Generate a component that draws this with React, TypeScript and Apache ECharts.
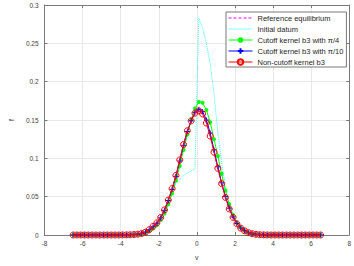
import React, { useEffect, useRef } from "react";
import * as echarts from "echarts";

const vGrid = [
  -6.5, -6.3, -6.1, -5.9, -5.7, -5.5, -5.3, -5.1, -4.9, -4.7, -4.5, -4.3, -4.1, -3.9, -3.7, -3.5,
  -3.3, -3.1, -2.9, -2.7, -2.5, -2.3, -2.1, -1.9, -1.7, -1.5, -1.3, -1.1, -0.9, -0.7, -0.5, -0.3, -0.1,
  0.1, 0.3, 0.5, 0.7, 0.9, 1.1, 1.3, 1.5, 1.7, 1.9, 2.1, 2.3, 2.5, 2.7, 2.9, 3.1, 3.3, 3.5, 3.7,
  3.9, 4.1, 4.3, 4.5, 4.7, 4.9, 5.1, 5.3, 5.5, 5.7, 5.9, 6.1, 6.3, 6.5,
];

const refEquilibrium = [
  0, 0, 0, 0, 0, 0, 0, 0, 0, 0, 0, 0, 0, 0.0001, 0.0002, 0.0003,
  0.0006, 0.0011, 0.002, 0.0037, 0.0069, 0.011, 0.0157, 0.0226, 0.0325, 0.0455, 0.0603, 0.0776, 0.0978, 0.1178, 0.1355, 0.1485, 0.158,
  0.161, 0.1575, 0.1465, 0.1295, 0.1085, 0.0875, 0.0672, 0.0492, 0.0342, 0.0232, 0.0149, 0.0091, 0.0056, 0.0031, 0.0017, 0.0009, 0.0004, 0.0002, 0.0001,
  0, 0, 0, 0, 0, 0, 0, 0, 0, 0, 0, 0, 0, 0,
];

const initialDatum = [
  0, 0, 0, 0, 0, 0, 0, 0, 0, 0, 0, 0, 0, 0, 0, 0.0001,
  0.0004, 0.0009, 0.0018, 0.0035, 0.0065, 0.0105, 0.016, 0.024, 0.034, 0.048, 0.06, 0.067, 0.073, 0.078, 0.081, 0.084, 0.086,
  0.283, 0.27, 0.25, 0.223, 0.185, 0.134, 0.094, 0.063, 0.04, 0.025, 0.015, 0.0088, 0.005, 0.0027, 0.0014, 0.0007, 0.0003, 0.0001, 0,
  0, 0, 0, 0, 0, 0, 0, 0, 0, 0, 0, 0, 0, 0,
];

const cutoffPi4 = [
  0, 0, 0, 0, 0, 0, 0, 0, 0, 0, 0, 0, 0, 0, 0, 0.0001,
  0.0003, 0.0006, 0.0012, 0.0025, 0.0048, 0.0085, 0.013, 0.0195, 0.028, 0.04, 0.054, 0.071, 0.09, 0.111, 0.131, 0.15, 0.165,
  0.1735, 0.1725, 0.163, 0.147, 0.125, 0.103, 0.08, 0.058, 0.04, 0.026, 0.016, 0.0095, 0.0055, 0.003, 0.0015, 0.0007, 0.0003, 0.0001, 0,
  0, 0, 0, 0, 0, 0, 0, 0, 0, 0, 0, 0, 0, 0,
];

const cutoffPi10 = [
  0, 0, 0, 0, 0, 0, 0, 0, 0, 0, 0, 0, 0, 0.0001, 0.0002, 0.0003,
  0.0006, 0.0011, 0.002, 0.0036, 0.0068, 0.0109, 0.0155, 0.0224, 0.0322, 0.045, 0.0595, 0.0765, 0.0965, 0.117, 0.135, 0.149, 0.16,
  0.164, 0.161, 0.15, 0.133, 0.111, 0.089, 0.068, 0.05, 0.035, 0.0235, 0.015, 0.0092, 0.0056, 0.0031, 0.0017, 0.0009, 0.0004, 0.0002, 0.0001,
  0, 0, 0, 0, 0, 0, 0, 0, 0, 0, 0, 0, 0, 0,
];

const nonCutoff = [
  0, 0, 0, 0, 0, 0, 0, 0, 0, 0, 0, 0, 0, 0.0001, 0.0002, 0.0003,
  0.0006, 0.0011, 0.002, 0.0037, 0.007, 0.0112, 0.0158, 0.0228, 0.0327, 0.0456, 0.0605, 0.0777, 0.098, 0.118, 0.136, 0.149, 0.159,
  0.162, 0.158, 0.146, 0.129, 0.108, 0.087, 0.067, 0.049, 0.034, 0.023, 0.0147, 0.009, 0.0055, 0.0031, 0.0017, 0.0009, 0.0004, 0.0002, 0.0001,
  0, 0, 0, 0, 0, 0, 0, 0, 0, 0, 0, 0, 0, 0,
];

const seriesNames = [
  "Reference equilibrium",
  "Initial datum",
  "Cutoff kernel b3 with \u03c0/4",
  "Cutoff kernel b3 with \u03c0/10",
  "Non-cutoff kernel b3",
];

const xTicks = { min: -8, max: 8, interval: 2 };
const yTicks = { min: 0, max: 0.3, interval: 0.05 };

const FONT = "'Liberation Sans', Arial, Helvetica, sans-serif";

function pair(ys: number[]) {
  return vGrid.map((v, i) => [v, ys[i]]);
}

export default function App() {
  const ref = useRef<HTMLDivElement>(null);
  useEffect(() => {
    if (!ref.current) return;
    const chart = echarts.init(ref.current, null, { renderer: "svg" });
    const axisColor = "#7a7a7a";
    const labelColor = "#404040";
    const splitColor = "#e8e8e8";
    const noMarker = { color: "rgba(0,0,0,0)", borderColor: "rgba(0,0,0,0)", borderWidth: 0 };
    chart.setOption({
      animation: false,
      backgroundColor: "#ffffff",
      grid: { left: 34, top: 5, right: 3, bottom: 27, containLabel: false },
      legend: {
        orient: "vertical",
        left: 226,
        top: 12,
        padding: [2, 3, 1, 2],
        itemWidth: 24,
        itemHeight: 7,
        itemGap: 3,
        itemTextGap: 3,
        borderColor: "#555",
        borderWidth: 0.8,
        backgroundColor: "#ffffff",
        lineStyle: { width: 1 },
        textStyle: { fontFamily: FONT, fontSize: 7.5, color: "#262626", lineHeight: 8 },
        data: [
          { name: seriesNames[0], itemStyle: noMarker },
          { name: seriesNames[1], itemStyle: noMarker },
          { name: seriesNames[2] },
          { name: seriesNames[3] },
          { name: seriesNames[4] },
        ],
      },
      xAxis: [
        {
          type: "value",
          min: xTicks.min,
          max: xTicks.max,
          interval: xTicks.interval,
          name: "v",
          nameLocation: "middle",
          nameGap: 19,
          nameTextStyle: { fontFamily: FONT, fontSize: 7, color: labelColor },
          axisLine: { show: true, onZero: false, lineStyle: { color: axisColor, width: 1 } },
          axisTick: { show: true, inside: true, length: 3, lineStyle: { color: axisColor } },
          axisLabel: { fontFamily: FONT, fontSize: 6.5, color: labelColor, margin: 5 },
          splitLine: { show: true, lineStyle: { color: splitColor, width: 1 } },
        },
        {
          type: "value",
          position: "top",
          min: xTicks.min,
          max: xTicks.max,
          interval: xTicks.interval,
          axisLine: { show: true, onZero: false, lineStyle: { color: axisColor, width: 1 } },
          axisTick: { show: true, inside: true, length: 3, lineStyle: { color: axisColor } },
          axisLabel: { show: false },
          splitLine: { show: false },
        },
      ],
      yAxis: [
        {
          type: "value",
          min: yTicks.min,
          max: yTicks.max,
          interval: yTicks.interval,
          name: "f",
          nameLocation: "middle",
          nameGap: 21,
          nameTextStyle: { fontFamily: FONT, fontSize: 7, color: labelColor },
          axisLine: { show: true, onZero: false, lineStyle: { color: axisColor, width: 1 } },
          axisTick: { show: true, inside: true, length: 3, lineStyle: { color: axisColor } },
          axisLabel: { fontFamily: FONT, fontSize: 6.5, color: labelColor, margin: 6 },
          splitLine: { show: true, lineStyle: { color: splitColor, width: 1 } },
        },
        {
          type: "value",
          position: "right",
          min: yTicks.min,
          max: yTicks.max,
          interval: yTicks.interval,
          axisLine: { show: true, onZero: false, lineStyle: { color: axisColor, width: 1 } },
          axisTick: { show: true, inside: true, length: 3, lineStyle: { color: axisColor } },
          axisLabel: { show: false },
          splitLine: { show: false },
        },
      ],
      series: [
        {
          name: seriesNames[0],
          type: "line",
          data: pair(refEquilibrium),
          showSymbol: false,
          symbol: "none",
          lineStyle: { color: "#ff00ff", width: 1, type: [3, 2] },
          itemStyle: { color: "#ff00ff" },
          z: 2,
        },
        {
          name: seriesNames[1],
          type: "line",
          data: pair(initialDatum),
          showSymbol: false,
          symbol: "none",
          lineStyle: { color: "#00ffff", width: 0.8, type: [1, 1] },
          itemStyle: { color: "#00ffff" },
          z: 3,
        },
        {
          name: seriesNames[2],
          type: "line",
          data: pair(cutoffPi4),
          showAllSymbol: true,
          symbol: "circle",
          symbolSize: 4,
          lineStyle: { color: "#00ff00", width: 1 },
          itemStyle: { color: "#00ff00", borderColor: "#00ff00", borderWidth: 0 },
          z: 4,
        },
        {
          name: seriesNames[3],
          type: "line",
          data: pair(cutoffPi10),
          showAllSymbol: true,
          symbol: "path://M0,5L10,5M5,0L5,10",
          symbolSize: 5,
          lineStyle: { color: "#0000ff", width: 1 },
          itemStyle: { color: "#0000ff", borderColor: "#0000ff", borderWidth: 1 },
          z: 5,
        },
        {
          name: seriesNames[4],
          type: "line",
          data: pair(nonCutoff),
          showAllSymbol: true,
          symbol: "circle",
          symbolSize: 6,
          lineStyle: { color: "#ff0000", width: 1 },
          itemStyle: { color: "rgba(255,255,255,0)", borderColor: "#ff0000", borderWidth: 1 },
          z: 6,
        },
      ],
    });
    return () => chart.dispose();
  }, []);
  return (
    <div
      ref={ref}
      style={{ position: "fixed", left: 0, top: 0, width: 354, height: 266, background: "#fff" }}
    />
  );
}
